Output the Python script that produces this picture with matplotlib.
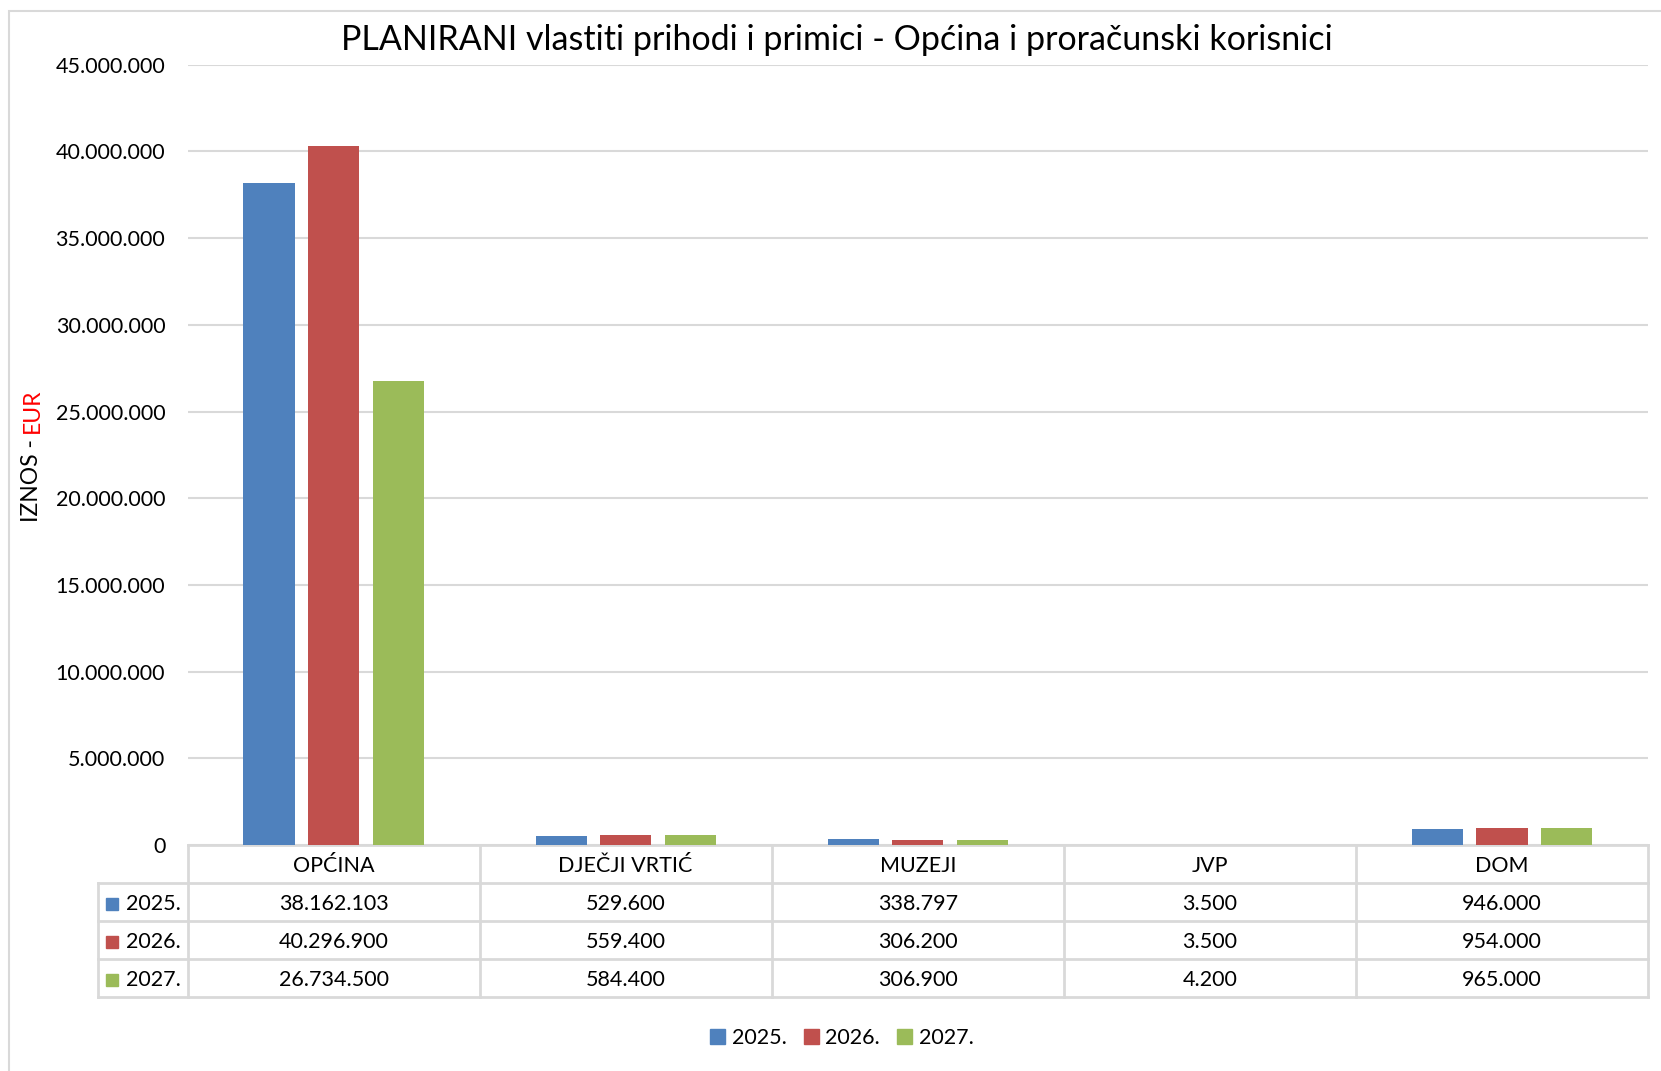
import numpy as np
import matplotlib
matplotlib.use('Agg')
import matplotlib.pyplot as plt
import matplotlib.transforms as mtransforms
from matplotlib.patches import Rectangle, Patch

plt.rcParams['font.family'] = ['Lato', 'DejaVu Sans']

# podaci
kategorije = ['OPĆINA', 'DJEČJI VRTIĆ', 'MUZEJI', 'JVP', 'DOM']
godine = ['2025.', '2026.', '2027.']
prihodi_2025 = [38162103, 529600, 338797, 3500, 946000]
prihodi_2026 = [40296900, 559400, 306200, 3500, 954000]
prihodi_2027 = [26734500, 584400, 306900, 4200, 965000]
y_ticks = np.arange(0, 45000001, 5000000)

boje = ['#4F81BD', '#C0504D', '#9BBB59']
siva = '#d9d9d9'
fs = 15.5


def fmt(v):
    return f"{v:,}".replace(',', '.')


W, H = 1661, 1071
fig = plt.figure(figsize=(W / 100, H / 100), dpi=100)


def fx(px):
    return px / W


def fy(py):
    return 1 - py / H


ax = fig.add_axes([fx(187.5), fy(845), fx(1648) - fx(187.5), fy(64.7) - fy(845)])

x = np.arange(len(kategorije))
sirina = 0.175
korak = 0.221
serije = [prihodi_2025, prihodi_2026, prihodi_2027]
for i, (god, vals, c) in enumerate(zip(godine, serije, boje)):
    ax.bar(x + (i - 1) * korak, vals, sirina, color=c, label=god, zorder=3)

ax.set_yticks(y_ticks)
ax.set_yticklabels([fmt(v) for v in y_ticks])
ax.yaxis.grid(True, color=siva, lw=1.5, zorder=0)
ax.set_xticks([])
for s in ['left', 'right', 'top']:
    ax.spines[s].set_visible(False)
ax.spines['bottom'].set_color(siva)
ax.spines['bottom'].set_linewidth(2)
ax.tick_params(axis='y', length=0, pad=16, labelsize=fs)

# tablica ispod grafa
blend = mtransforms.blended_transform_factory(ax.transData, ax.transAxes)
h = 38.1 / 780.3
pomak = 2 / 780.3  # tekst malo niže u ćeliji
x_lijevo = -0.805
n = len(kategorije)

for k in range(1, 5):
    ax.plot([x_lijevo, n - 0.5], [-k * h, -k * h], color=siva, lw=2,
            transform=blend, clip_on=False)
for k in range(n + 1):
    ax.plot([k - 0.5, k - 0.5], [0, -4 * h], color=siva, lw=2,
            transform=blend, clip_on=False)
ax.plot([x_lijevo, x_lijevo], [-h, -4 * h], color=siva, lw=2,
        transform=blend, clip_on=False)

for j, kat in enumerate(kategorije):
    ax.text(j, -0.5 * h - pomak, kat, ha='center', va='center', fontsize=fs,
            transform=blend)
for i, (god, vals, c) in enumerate(zip(godine, serije, boje)):
    yc = -(i + 1.5) * h - pomak
    ax.plot([-0.757], [yc], marker='s', markersize=8.5, color=c,
            transform=blend, clip_on=False)
    ax.text(-0.712, yc, god, ha='left', va='center', fontsize=fs,
            transform=blend)
    for j, v in enumerate(vals):
        ax.text(j, yc, fmt(v), ha='center', va='center', fontsize=fs,
                transform=blend)

ax.set_xlim(-0.5, n - 0.5)
ax.set_ylim(0, 45000000)

# naslov
fig.text(fx(837), fy(40), 'PLANIRANI vlastiti prihodi i primici - Općina i proračunski korisnici',
         ha='center', va='center', fontsize=24.5)

# os y naslov u dvije boje
t1 = fig.text(fx(32), fy(522), 'IZNOS - ', rotation=90, ha='center', va='bottom',
              fontsize=16.5)
fig.canvas.draw()
bb = t1.get_window_extent(fig.canvas.get_renderer()).transformed(fig.transFigure.inverted())
fig.text(fx(32), bb.y1, 'EUR', rotation=90, ha='center', va='bottom',
         fontsize=16.5, color='red')

# legenda
rucke = [Patch(color=c, label=g) for g, c in zip(godine, boje)]
fig.legend(handles=rucke, loc='center', bbox_to_anchor=(fx(842), fy(1038)), ncol=3,
           frameon=False, fontsize=fs, handlelength=0.7, handleheight=0.7,
           handletextpad=0.3, columnspacing=0.8)

# okvir grafikona
fig.add_artist(Rectangle((fx(9), -0.1), 1.2, fy(11) + 0.1, fill=False,
                         ec=siva, lw=1.5, transform=fig.transFigure))

fig.savefig('out.png', dpi=100)
